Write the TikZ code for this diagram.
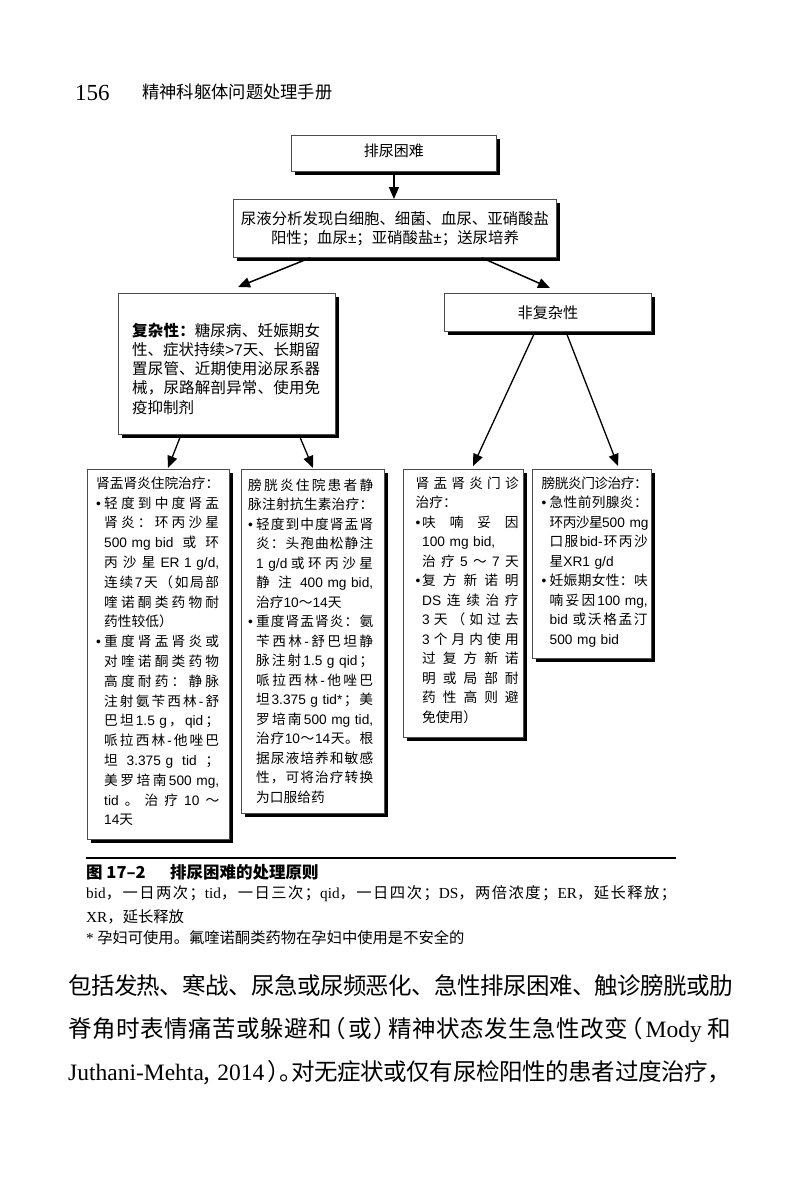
\documentclass[tikz,border=0pt]{standalone}
\usepackage{fontspec}
\setmainfont{Noto Sans CJK SC}
\newfontfamily\lser{Liberation Serif}
\newfontfamily\cjkfam{Noto Sans CJK SC}
\newfontfamily\latfam{Liberation Sans}
\newfontfamily\cjkhalt{Noto Sans CJK SC}[RawFeature=+halt]
\usetikzlibrary{shadows,arrows.meta,calc}
% inter-character glue for CJK so that lines can be justified,
% and automatic switching of Latin text to a sans font inside the boxes
\newif\ifautosw
\newcommand\tocjk{\ifautosw\cjkfam\fi}
\newcommand\tolat{\ifautosw\latfam\fi}
\newcount\mycnt
\mycnt="4E00
\loop \XeTeXcharclass\mycnt=7 \advance\mycnt by 1 \ifnum\mycnt<"A000 \repeat
\XeTeXcharclass"3001=7 \XeTeXcharclass"3002=7
\XeTeXcharclass"FF08=7 \XeTeXcharclass"FF09=7 \XeTeXcharclass"FF0C=7
\XeTeXcharclass"FF1A=7 \XeTeXcharclass"FF1B=7 \XeTeXcharclass"FF5E=7
\XeTeXinterchartokenstate=1
\XeTeXinterchartoks 7 7 = {\hskip 0pt plus 2pt minus 0.6pt\relax}
\XeTeXinterchartoks 0 7 = {\hskip 0pt plus 2pt minus 0.6pt\relax\tocjk}
\XeTeXinterchartoks 7 0 = {\hskip 0pt plus 2pt minus 0.6pt\relax\tolat}
\XeTeXinterchartoks 4095 7 = {\tocjk}
\XeTeXinterchartoks 4095 0 = {\tolat}
\newlength\ind
\newcommand\JL[1]{\makebox[\linewidth][s]{#1}}
\newcommand\JB[1]{\makebox[\ind][l]{•}\makebox[\dimexpr\linewidth-\ind\relax][s]{#1}}
\newcommand\JI[1]{\hspace*{\ind}\makebox[\dimexpr\linewidth-\ind\relax][s]{#1}}
\newcommand\NI[1]{\hspace*{\ind}#1}
\tikzset{
  box/.style={draw=black!70, line width=0.9pt, fill=white, anchor=north west,
    inner sep=0pt, drop shadow={shadow xshift=4pt, shadow yshift=-4pt, fill=black, opacity=1}},
  arr/.style={line width=1.5pt, -{Triangle[length=12pt,width=10pt]}},
  txt/.style={inner sep=0pt, anchor=base west, align=left},
  smalltxt/.style={txt, font=\autoswtrue\fontsize{13.7}{19.5}\selectfont},
}
\begin{document}
\begin{tikzpicture}[x=1pt,y=-1pt]
\fill[white] (0,0) rectangle (800,1184);
\useasboundingbox (0,0) rectangle (800,1184);

% page header
\node[txt, font=\lser\fontsize{23}{23}\selectfont] (pgno) at (75,100.5) {156};
\node[txt, font=\fontsize{17.3}{17.3}\selectfont] (runhead) at (142,98.6) {精神科躯体问题处理手册};

% boxes
\node[box, minimum width=205pt, minimum height=36pt] (b1) at (291,135) {};
\node[box, minimum width=323pt, minimum height=58pt] (b2) at (233,199) {};
\node[box, minimum width=217pt, minimum height=141pt] (comp) at (118,293) {};
\node[box, minimum width=207pt, minimum height=38pt] (unc) at (444,293) {};
\node[box, minimum width=142pt, minimum height=370pt] (A) at (87,469) {};
\node[box, minimum width=143pt, minimum height=344pt] (B) at (241,469) {};
\node[box, minimum width=120pt, minimum height=268pt] (C) at (403,469) {};
\node[box, minimum width=119pt, minimum height=189pt] (D) at (532,469) {};

% connectors
\draw[arr] (b1.south) -- (b1.south |- b2.north);
\draw[arr] ($(b2.south west)+(77,0)$) -- ($(comp.north west)+(120,-6)$);
\draw[arr] ($(b2.south west)+(249,0)$) -- ($(unc.north west)+(106,-5)$);
\draw[arr, line width=1.3pt] ($(comp.south west)+(63,0)$) -- ($(A.north west)+(81,-1)$);
\draw[arr, line width=1.3pt] ($(comp.south west)+(181,0)$) -- ($(B.north west)+(72,-1)$);
\draw[arr, line width=1.3pt] ($(unc.south west)+(91,0)$) -- ($(C.north west)+(70,-3)$);
\draw[arr, line width=1.3pt] ($(unc.south west)+(122,0)$) -- ($(D.north west)+(86,-3)$);

% box texts
\node[inner sep=0pt, font=\fontsize{15}{15}\selectfont] (b1t) at ($(b1.center)+(0,-3)$) {排尿困难};
\node[inner sep=0pt, align=center, font=\autoswtrue\fontsize{15.4}{19}\selectfont] (b2t) at (b2.center)
  {尿液分析发现白细胞、细菌、血尿、亚硝酸盐\\阳性；血尿±；亚硝酸盐±；送尿培养};
\node[inner sep=0pt, font=\fontsize{15.2}{15.2}\selectfont] (unct) at (unc.center) {非复杂性};

\node[txt, text width=188pt, font=\autoswtrue\fontsize{15.5}{19.3}\selectfont] (compt) at (132,336) {%
\JL{{\bfseries 复杂性：}糖尿病、妊娠期女}\\
\JL{性、症状持续>7天、长期留}\\
\JL{置尿管、近期使用泌尿系器}\\
\JL{械，尿路解剖异常、使用免}\\
疫抑制剂};

\node[txt, text width=123pt, font=\autoswtrue\fontsize{13.7}{19.8}\selectfont] (At) at (96,488.2) {%
\setlength\ind{8pt}%
\JL{肾盂肾炎住院治疗：}\\
\JB{轻度到中度肾盂}\\
\JI{肾炎：环丙沙星}\\
\JI{500 mg bid或环}\\
\JI{丙沙星ER 1 g/d,}\\
\JI{连续7天（如局部}\\
\JI{喹诺酮类药物耐}\\
\NI{药性较低）}\\
\JB{重度肾盂肾炎或}\\
\JI{对喹诺酮类药物}\\
\JI{高度耐药：静脉}\\
\JI{注射氨苄西林-舒}\\
\JI{巴坦1.5 g，qid；}\\
\JI{哌拉西林-他唑巴}\\
\JI{坦3.375 g\ \ tid；}\\
\JI{美罗培南500 mg,}\\
\JI{tid。治疗10～}\\
\NI{14天}};

\node[smalltxt, text width=125pt] (Bt) at (248,490) {%
\setlength\ind{8pt}%
\JL{膀胱炎住院患者静}\\
\JL{脉注射抗生素治疗：}\\
\JB{轻度到中度肾盂肾}\\
\JI{炎：头孢曲松静注}\\
\JI{1 g/d或环丙沙星}\\
\JI{静注400 mg bid,}\\
\NI{治疗10～14天}\\
\JB{重度肾盂肾炎：氨}\\
\JI{苄西林-舒巴坦静}\\
\JI{脉注射1.5 g qid；}\\
\JI{哌拉西林-他唑巴}\\
\JI{坦3.375 g tid*；美}\\
\JI{罗培南500 mg tid,}\\
\JI{治疗10～14天。根}\\
\JI{据尿液培养和敏感}\\
\JI{性，可将治疗转换}\\
\NI{为口服给药}};

\node[smalltxt, text width=103pt] (Ct) at (415.5,488) {%
\setlength\ind{6.5pt}%
\JL{肾盂肾炎门诊}\\
治疗：\\
\JB{呋喃妥因}\\
\JI{100 mg bid,}\\
\JI{治疗5～7天}\\
\JB{复方新诺明}\\
\JI{DS连续治疗}\\
\JI{3天（如过去}\\
\JI{3个月内使用}\\
\JI{过复方新诺}\\
\JI{明或局部耐}\\
\JI{药性高则避}\\
\NI{免使用）}};

\node[smalltxt, text width=106pt] (Dt) at (541.5,488) {%
\setlength\ind{8pt}%
\JL{膀胱炎门诊治疗：}\\
\JB{急性前列腺炎：}\\
\JI{环丙沙星500 mg}\\
\JI{口服bid-环丙沙}\\
\NI{星XR1 g/d}\\
\JB{妊娠期女性：呋}\\
\JI{喃妥因100 mg,}\\
\JI{bid 或沃格孟汀}\\
\NI{500 mg bid}};

% caption and notes
\draw[line width=1.5pt] (86,858) -- (676,858);
\node[txt, font=\bfseries\fontsize{16.5}{16.5}\selectfont] (capnum) at (86,878.3) {图 17–2};
\node[txt, font=\bfseries\fontsize{16.5}{16.5}\selectfont] (captxt) at (170,878.3) {排尿困难的处理原则};
\node[txt, font=\fontsize{15.3}{15.3}\selectfont] (note1) at (86,898.8)
  {\makebox[590pt][s]{{\lser bid}，一日两次；{\lser tid}，一日三次；{\lser qid}，一日四次；{\lser DS}，两倍浓度；{\lser ER}，延长释放；}};
\node[txt, font=\fontsize{15.3}{15.3}\selectfont] (note2) at (86,922.8) {{\lser XR}，延长释放};
\node[txt, font=\fontsize{15.3}{15.3}\selectfont] (note3) at (86,943.8) {{\lser *} 孕妇可使用。氟喹诺酮类药物在孕妇中使用是不安全的};

% body text
\node[txt, font=\fontsize{23.5}{23.5}\selectfont] (body1) at (68,994)
  {\makebox[663pt][s]{包括发热、寒战、尿急或尿频恶化、急性排尿困难、触诊膀胱或肋}};
\node[txt, font=\fontsize{23.5}{23.5}\selectfont] (body2) at (68,1037)
  {\makebox[663pt][s]{脊角时表情痛苦或躲避和\hspace{3pt}{\cjkhalt （}\hspace{2pt}或\hspace{2pt}{\cjkhalt ）}\hspace{3pt}精神状态发生急性改变\hspace{3pt}{\cjkhalt （}\hspace{3pt}{\lser Mody} 和}};
\node[txt, font=\fontsize{23.5}{23.5}\selectfont] (body3) at (68,1080)
  {\makebox[663pt][s]{{\lser Juthani-Mehta}{\cjkfam ,}\hspace{7pt}{\lser 2014}\hspace{3pt}{\cjkhalt ）}{\cjkhalt 。}对无症状或仅有尿检阳性的患者过度治疗，}};
\end{tikzpicture}
\end{document}
